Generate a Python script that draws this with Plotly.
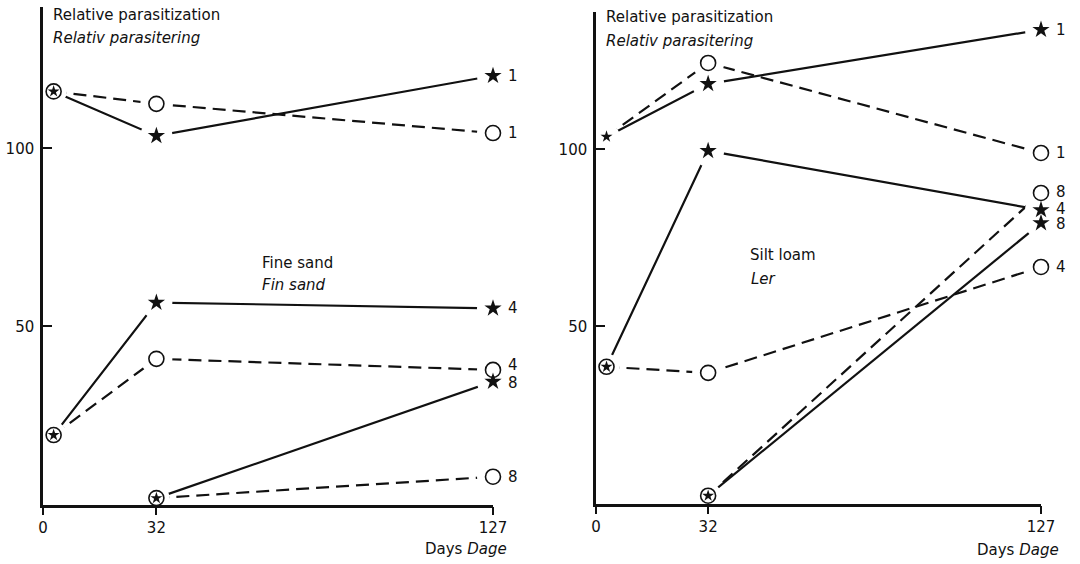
import plotly.graph_objects as go

# ---------------- data ----------------
days_full = [3, 32, 127]
days_late = [32, 127]
x_ticks = [0, 32, 127]
y_ticks = [50, 100]
series_labels = ["1", "4", "8"]

# Fine sand / Fin sand
sand_star_1 = [116.0, 103.5, 120.4]
sand_circle_1 = [116.0, 112.5, 104.3]
sand_star_4 = [19.5, 56.7, 55.1]
sand_circle_4 = [19.5, 40.9, 37.8]
sand_star_8 = [1.8, 34.5]
sand_circle_8 = [1.8, 7.8]

# Silt loam / Ler
silt_star_1 = [103.6, 118.5, 133.8]
silt_circle_1 = [103.6, 124.4, 99.0]
silt_star_4 = [38.6, 99.6, 82.9]
silt_circle_4 = [38.6, 36.9, 66.8]
silt_star_8 = [2.2, 79.2]
silt_circle_8 = [2.2, 87.7]

W, H = 1080, 564
FONT = "DejaVu Sans"
INK = "#111111"
HALO = "white"


def px(x):
    return x / W


def py(y):
    return 1 - y / H


# (label, kind, xs, ys, draw start marker, label yshift)
panels = {
    "left": [
        (series_labels[0], "star", days_full, sand_star_1, True, 0),
        (series_labels[0], "circle", days_full, sand_circle_1, True, 0),
        (series_labels[1], "star", days_full, sand_star_4, True, 0),
        (series_labels[1], "circle", days_full, sand_circle_4, True, 5),
        (series_labels[2], "star", days_late, sand_star_8, True, -1),
        (series_labels[2], "circle", days_late, sand_circle_8, True, 0),
    ],
    "right": [
        (series_labels[0], "star", days_full, silt_star_1, True, 0),
        (series_labels[0], "circle", days_full, silt_circle_1, False, 0),
        (series_labels[1], "star", days_full, silt_star_4, True, 1),
        (series_labels[1], "circle", days_full, silt_circle_4, True, 0),
        (series_labels[2], "star", days_late, silt_star_8, True, -1),
        (series_labels[2], "circle", days_late, silt_circle_8, True, 1),
    ],
}
axes_of = {"left": ("x", "y"), "right": ("x2", "y2")}

fig = go.Figure()

# 1) connecting lines
for panel, series in panels.items():
    xa, ya = axes_of[panel]
    for lab, kind, xs, ys, start, _ in series:
        fig.add_trace(go.Scatter(
            x=xs, y=ys, mode="lines", xaxis=xa, yaxis=ya, showlegend=False,
            cliponaxis=False,
            line=dict(color=INK, width=2.2,
                      dash="solid" if kind == "star" else "13px,7px"),
            hoverinfo="skip"))

# 2) white halos: the lines stop short of every marker
for panel, series in panels.items():
    xa, ya = axes_of[panel]
    for lab, kind, xs, ys, start, _ in series:
        sizes = [26] + [32] * (len(xs) - 1)
        fig.add_trace(go.Scatter(
            x=xs, y=ys, mode="markers", xaxis=xa, yaxis=ya, showlegend=False,
            cliponaxis=False,
            marker=dict(symbol="circle", color=HALO, size=sizes,
                        opacity=1, line=dict(width=0)),
            hoverinfo="skip"))

# 3) markers
for panel, series in panels.items():
    xa, ya = axes_of[panel]
    for lab, kind, xs, ys, start, _ in series:
        mx, my = (xs, ys) if start else (xs[1:], ys[1:])
        n = len(mx)
        if kind == "star":
            sizes = ([9] if start else []) + [13] * (n - (1 if start else 0))
            marker = dict(symbol="star", color=INK, size=sizes, opacity=1,
                          line=dict(width=0))
        else:
            marker = dict(symbol="circle-open", color=INK, size=15,
                          opacity=1, line=dict(width=1.6, color=INK))
        fig.add_trace(go.Scatter(
            x=mx, y=my, mode="markers", xaxis=xa, yaxis=ya,
            showlegend=False, cliponaxis=False, marker=marker,
            hoverinfo="skip"))

# series numbers next to the last points
annotations = []
for panel, series in panels.items():
    xa, ya = axes_of[panel]
    for lab, kind, xs, ys, start, ysh in series:
        annotations.append(dict(
            x=xs[-1], y=ys[-1], xref=xa, yref=ya, text=lab, showarrow=False,
            xanchor="left", yanchor="middle", xshift=13, yshift=ysh,
            font=dict(family=FONT, size=15, color=INK)))


def add_text(text, x, y, anchor="left", italic=False):
    annotations.append(dict(
        x=px(x), y=py(y), xref="paper", yref="paper",
        text=f"<i>{text}</i>" if italic else text, showarrow=False,
        xanchor=anchor, yanchor="middle", borderpad=0,
        font=dict(family=FONT, size=15, color=INK)))


add_text("Relative parasitization", 52, 15)
add_text("Relativ parasitering", 52, 38, italic=True)
add_text("Relative parasitization", 605, 17)
add_text("Relativ parasitering", 605, 41, italic=True)
add_text("Fine sand", 261, 263)
add_text("Fin sand", 261, 285, italic=True)
add_text("Silt loam", 749, 255)
add_text("Ler", 750, 279, italic=True)
add_text("Days <i>Dage</i>", 508, 549, anchor="right")
add_text("Days <i>Dage</i>", 1060, 550, anchor="right")

xcommon = dict(range=[0, 127], showgrid=False, zeroline=False,
               automargin=False,
               showline=True, linecolor=INK, linewidth=2.5,
               ticks="outside", tickvals=x_ticks, ticklen=8, tickwidth=2.2,
               tickcolor=INK, tickfont=dict(family=FONT, size=15, color=INK))
ycommon = dict(showgrid=False, zeroline=False, showline=True,
               automargin=False,
               linecolor=INK, linewidth=2.5, ticks="inside",
               tickvals=y_ticks, ticklen=9, tickwidth=2.2, tickcolor=INK,
               ticklabelstandoff=3,
               tickfont=dict(family=FONT, size=15, color=INK))

fig.update_layout(
    width=W, height=H, autosize=False,
    margin=dict(l=0, r=0, t=0, b=0, pad=0),
    paper_bgcolor="white", plot_bgcolor="white",
    xaxis=dict(xcommon, domain=[px(43), px(493)], anchor="y"),
    yaxis=dict(ycommon, domain=[py(504.5), py(7)], range=[0, 139.7],
               anchor="x"),
    xaxis2=dict(xcommon, domain=[px(596), px(1041)], anchor="y2"),
    yaxis2=dict(ycommon, domain=[py(503.5), py(12)], range=[0, 138.8],
                anchor="x2"),
    annotations=annotations,
)

fig.write_html("out.html", config={"displayModeBar": False}, post_script=(
    "document.body.style.margin='0';"
    "document.body.style.overflow='hidden';"))
